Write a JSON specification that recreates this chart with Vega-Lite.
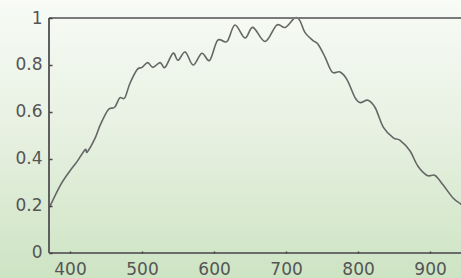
{
  "$schema": "https://vega.github.io/schema/vega-lite/v6.json",
  "width": 461,
  "height": 278,
  "padding": 0,
  "autosize": {"type": "none"},
  "background": "#e4efdd",
  "config": {"view": {"stroke": null}},
  "datasets": {
    "curve": [
      {"wl": 370.8, "r": 0.19},
      {"wl": 386, "r": 0.285},
      {"wl": 400, "r": 0.35},
      {"wl": 410, "r": 0.39},
      {"wl": 421, "r": 0.44},
      {"wl": 424, "r": 0.43},
      {"wl": 435, "r": 0.49},
      {"wl": 442, "r": 0.545},
      {"wl": 453, "r": 0.61},
      {"wl": 462, "r": 0.62},
      {"wl": 469, "r": 0.66},
      {"wl": 476, "r": 0.66},
      {"wl": 483, "r": 0.72},
      {"wl": 493, "r": 0.78},
      {"wl": 500, "r": 0.79},
      {"wl": 508, "r": 0.81},
      {"wl": 515, "r": 0.79},
      {"wl": 525, "r": 0.81},
      {"wl": 532, "r": 0.79},
      {"wl": 543, "r": 0.85},
      {"wl": 550, "r": 0.82},
      {"wl": 560, "r": 0.855},
      {"wl": 571, "r": 0.8},
      {"wl": 583, "r": 0.85},
      {"wl": 594, "r": 0.82},
      {"wl": 605, "r": 0.905},
      {"wl": 618, "r": 0.9},
      {"wl": 629, "r": 0.97},
      {"wl": 643, "r": 0.915},
      {"wl": 654, "r": 0.96},
      {"wl": 671, "r": 0.9},
      {"wl": 687, "r": 0.97},
      {"wl": 699, "r": 0.96},
      {"wl": 712, "r": 1.0},
      {"wl": 719, "r": 0.99},
      {"wl": 726, "r": 0.94},
      {"wl": 737, "r": 0.905},
      {"wl": 744, "r": 0.89},
      {"wl": 754, "r": 0.835},
      {"wl": 764, "r": 0.77},
      {"wl": 775, "r": 0.77},
      {"wl": 785, "r": 0.736},
      {"wl": 796, "r": 0.66},
      {"wl": 803, "r": 0.64},
      {"wl": 814, "r": 0.65},
      {"wl": 824, "r": 0.617},
      {"wl": 835, "r": 0.536},
      {"wl": 849, "r": 0.49},
      {"wl": 858, "r": 0.48},
      {"wl": 872, "r": 0.435},
      {"wl": 883, "r": 0.37},
      {"wl": 896, "r": 0.33},
      {"wl": 907, "r": 0.33},
      {"wl": 918, "r": 0.29},
      {"wl": 932, "r": 0.234},
      {"wl": 942, "r": 0.21},
      {"wl": 950, "r": 0.19}
    ]
  },
  "layer": [
    {
      "data": {"values": [{}]},
      "mark": {
        "type": "rect",
        "color": {
          "gradient": "linear", "x1": 0, "y1": 0, "x2": 0, "y2": 1,
          "stops": [
            {"offset": 0, "color": "#f8fbf6"},
            {"offset": 0.5, "color": "#e6f0e0"},
            {"offset": 1, "color": "#cde4c3"}
          ]
        }
      },
      "encoding": {}
    },
    {
      "data": {"name": "curve"},
      "mark": {"type": "line", "color": "#666666", "strokeWidth": 1.6, "interpolate": "cardinal"},
      "encoding": {
        "x": {
          "field": "wl", "type": "quantitative",
          "scale": {"domain": [302.75, 943], "nice": false, "zero": false},
          "axis": {
            "orient": "bottom", "offset": -25, "domain": false, "grid": false, "title": null,
            "zindex": 1,
            "values": [400, 500, 600, 700, 800, 900],
            "tickSize": -2, "tickColor": "#444444", "tickWidth": 1.5,
            "labelPadding": 10, "labelFont": "DejaVu Sans", "labelFontSize": 17,
            "labelColor": "#555555"
          }
        },
        "y": {
          "field": "r", "type": "quantitative",
          "scale": {"domain": [-0.1064, 1.0766], "nice": false, "zero": false},
          "axis": {
            "orient": "left", "offset": -49, "domain": false, "grid": false, "title": null,
            "zindex": 1,
            "values": [0, 0.1, 0.2, 0.3, 0.4, 0.5, 0.6, 0.7, 0.8, 0.9, 1],
            "labelExpr": "round(datum.value*10) % 2 == 0 ? format(datum.value, '~g') : ''",
            "tickSize": -3, "tickColor": "#444444", "tickWidth": 1.5,
            "labelPadding": 10, "labelFont": "DejaVu Sans", "labelFontSize": 17,
            "labelColor": "#555555"
          }
        }
      }
    },
    {
      "data": {"values": [{}]},
      "mark": {"type": "rule", "color": "#6a6a6a", "strokeWidth": 2},
      "encoding": {
        "x": {"datum": 370.8, "type": "quantitative"},
        "x2": {"datum": 960},
        "y": {"datum": 0, "type": "quantitative"}
      }
    },
    {
      "data": {"values": [{}]},
      "mark": {"type": "rule", "color": "#7a7a7a", "strokeWidth": 2},
      "encoding": {
        "x": {"datum": 370.8, "type": "quantitative"},
        "x2": {"datum": 960},
        "y": {"datum": 1, "type": "quantitative"}
      }
    },
    {
      "data": {"values": [{}]},
      "mark": {"type": "rule", "color": "#5f5f5f", "strokeWidth": 2},
      "encoding": {
        "x": {"datum": 370.8, "type": "quantitative"},
        "y": {"datum": 0, "type": "quantitative"},
        "y2": {"datum": 1}
      }
    }
  ]
}
